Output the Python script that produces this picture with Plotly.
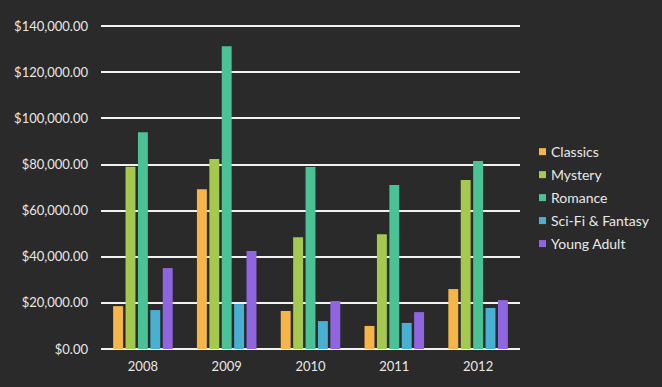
import plotly.graph_objects as go

years = ["2008", "2009", "2010", "2011", "2012"]
classics = [18600, 69300, 16500, 10000, 26000]
mystery = [79000, 82400, 48500, 49800, 73300]
romance = [94000, 131300, 78900, 71100, 81500]
scifi = [16900, 19500, 12100, 11300, 17800]
young_adult = [35100, 42500, 20800, 16000, 21200]

series_names = ["Classics", "Mystery", "Romance", "Sci-Fi & Fantasy", "Young Adult"]
series_values = [classics, mystery, romance, scifi, young_adult]
series_colors = ["#F5B548", "#A5C84F", "#4BC196", "#4AB0D2", "#9065E0"]
y_ticks = [0, 20000, 40000, 60000, 80000, 100000, 120000, 140000]

W, H = 662, 387
Y_MAX = 141400
L, R, B = 101, 142, 38
T = H - B - 323 * Y_MAX / 140000
pw, ph = W - L - R, H - T - B


def px_x(x):
    return (x - L) / pw


def px_y(y):
    return (H - B - y) / ph


font = dict(family="Lato, 'Open Sans', sans-serif", size=13, color="#e8e8e8")
legend_font = dict(family="Lato, 'Open Sans', sans-serif", size=14, color="#e8e8e8")

fig = go.Figure()
for name, vals, col in zip(series_names, series_values, series_colors):
    fig.add_trace(go.Bar(x=years, y=vals, name=name, marker_color=col,
                         marker_line_width=0, showlegend=False))

shapes = []
annotations = []
for i, (name, col) in enumerate(zip(series_names, series_colors)):
    cy = 151.5 + 23 * i
    shapes.append(dict(type="rect", xref="paper", yref="paper",
                       x0=px_x(539), x1=px_x(546), y0=px_y(cy + 3.5), y1=px_y(cy - 3.5),
                       fillcolor=col, line_width=0))
    annotations.append(dict(xref="paper", yref="paper", x=px_x(549), y=px_y(cy),
                            xanchor="left", yanchor="middle", text=name,
                            showarrow=False, font=legend_font))

fig.update_layout(
    width=W, height=H,
    paper_bgcolor="#2a2a2a", plot_bgcolor="#2a2a2a",
    margin=dict(l=L, r=R, t=T, b=B, autoexpand=False),
    barmode="group", bargap=0.26, bargroupgap=0.2,
    font=font,
    showlegend=False,
    shapes=shapes,
    annotations=annotations,
    yaxis=dict(range=[0, Y_MAX], tickvals=y_ticks,
               tickformat="$,.2f",
               showgrid=True, gridcolor="#f2f2f2", gridwidth=1.5,
               zeroline=True, zerolinecolor="#f2f2f2", zerolinewidth=1.5,
               showline=False, ticks="", ticklabelstandoff=12, tickfont=font,
               automargin=False),
    xaxis=dict(showgrid=False, showline=False, ticks="", tickfont=font,
               ticklabelstandoff=8, automargin=False),
)

fig.write_html("out.html", post_script="document.body.style.margin='0';",
               config={"displayModeBar": False})
